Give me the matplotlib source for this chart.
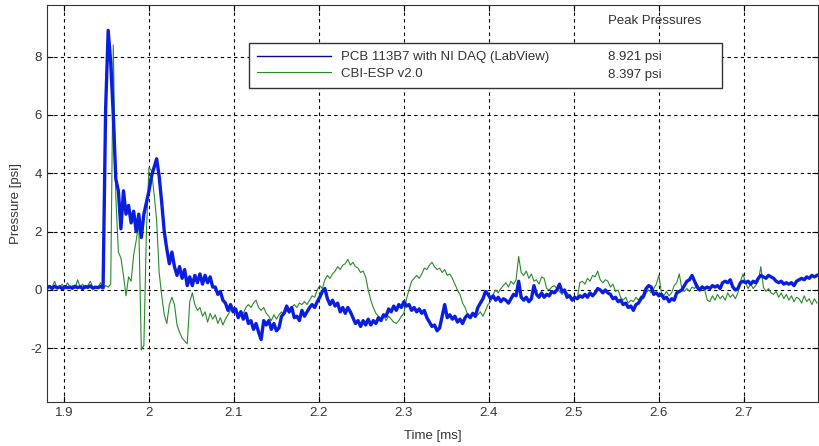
import numpy as np
import matplotlib.pyplot as plt

plt.rcParams['font.family'] = ['Liberation Sans', 'DejaVu Sans']

# sample times [ms], 0.003 ms spacing
t_start = 1.880
t_step = 0.003

# PCB 113B7 with NI DAQ (LabView), pressure [psi]
pcb_psi = [
    0.08, 0.12, 0.05, 0.13, 0.07, 0.11, 0.04, 0.12, 0.08, 0.10,
    0.06, 0.13, 0.08, 0.11, 0.05, 0.12, 0.09, 0.14, 0.06, 0.10,
    0.08, 0.12, 0.07, 6.20, 8.90, 7.80, 6.00, 3.80, 3.40, 2.10,
    3.40, 2.60, 2.90, 2.30, 2.70, 2.00, 2.60, 1.80, 2.60, 3.00,
    3.40, 3.90, 4.20, 4.50, 3.90, 3.00, 2.00, 1.40, 0.90, 1.30,
    0.80, 0.50, 0.80, 0.40, 0.70, 0.15, 0.45, 0.15, 0.50, 0.25,
    0.55, 0.20, 0.50, 0.25, 0.45, 0.10, 0.10, -0.15, -0.05, -0.35,
    -0.45, -0.70, -0.50, -0.75, -0.65, -0.95, -0.75, -1.00, -0.80, -1.15,
    -1.05, -1.35, -1.15, -1.45, -1.70, -1.05, -1.20, -1.05, -1.35, -1.15,
    -1.40, -1.30, -0.90, -0.80, -0.55, -0.75, -0.60, -0.95, -0.90, -1.05,
    -0.70, -0.90, -0.75, -0.60, -0.50, -0.60, -0.40, -0.25, -0.05, 0.05,
    -0.30, -0.50, -0.35, -0.55, -0.45, -0.75, -0.60, -0.80, -0.60, -0.75,
    -0.95, -1.15, -1.05, -1.25, -1.05, -1.20, -1.00, -1.20, -1.05, -1.15,
    -0.95, -1.05, -0.85, -0.90, -0.65, -0.75, -0.55, -0.70, -0.50, -0.60,
    -0.40, -0.55, -0.50, -0.70, -0.60, -0.75, -0.65, -0.80, -0.70, -0.95,
    -1.10, -1.25, -1.20, -1.40, -1.30, -0.90, -0.50, -0.95, -0.85, -1.00,
    -0.90, -1.10, -1.00, -1.15, -0.95, -0.85, -0.95, -0.80, -0.90, -0.60,
    -0.45, -0.30, -0.05, -0.15, -0.30, -0.20, -0.35, -0.25, -0.40, -0.30,
    -0.35, -0.45, -0.30, -0.15, -0.20, 0.30, -0.25, -0.35, -0.25, -0.40,
    -0.30, 0.15, -0.15, -0.25, -0.10, -0.25, -0.15, -0.20, -0.05, -0.10,
    0.00, 0.20, -0.05, 0.00, -0.25, -0.20, -0.35, -0.25, -0.30, -0.20,
    -0.25, -0.15, -0.25, -0.10, -0.20, -0.10, 0.05, 0.00, -0.10, 0.00,
    -0.10, -0.15, -0.30, -0.25, -0.40, -0.35, -0.50, -0.45, -0.60, -0.55,
    -0.70, -0.50, -0.45, -0.30, -0.20, 0.05, 0.15, 0.10, -0.15, -0.10,
    -0.20, -0.15, -0.30, -0.25, -0.40, -0.30, -0.35, -0.10, -0.05, 0.00,
    0.15, 0.30, 0.35, 0.50, 0.30, 0.10, 0.00, 0.10, 0.05, 0.10,
    0.05, 0.15, 0.10, 0.15, 0.05, 0.25, 0.30, 0.25, 0.35, 0.10,
    0.00, 0.05, 0.25, 0.30, 0.25, 0.30, 0.20, 0.30, 0.25, 0.40,
    0.50, 0.45, 0.40, 0.50, 0.45, 0.40, 0.30, 0.25, 0.30, 0.20,
    0.25, 0.20, 0.25, 0.15, 0.30, 0.35, 0.40, 0.35, 0.45, 0.40,
    0.50, 0.45, 0.50,
]

# CBI-ESP v2.0, pressure [psi]
cbi_psi = [
    0.05, 0.15, 0.10, 0.30, 0.05, 0.12, 0.20, 0.02, 0.25, 0.10,
    0.15, 0.05, 0.35, 0.10, 0.20, 0.05, 0.15, 0.30, 0.08, 0.12,
    0.10, 0.25, 0.05, 0.15, 0.10, 0.20, 8.40, 3.20, 1.30, 1.10,
    0.50, -0.20, 0.45, 0.30, 1.20, 1.70, 2.30, -2.05, -1.90, 2.00,
    4.20, 4.10, 3.30, 2.40, 0.60, -0.20, -0.85, -1.15, -0.50, -0.25,
    -0.50, -1.20, -1.45, -1.65, -1.75, -1.85, -0.40, -0.10, -0.50, -0.70,
    -0.60, -0.90, -0.75, -1.10, -0.80, -1.00, -0.85, -1.15, -0.95, -1.20,
    -1.00, -0.85, -0.70, -0.60, -0.75, -0.85, -0.70, -0.80, -0.60, -0.50,
    -0.60, -0.45, -0.35, -0.60, -0.70, -0.60, -0.80, -0.90, -1.05, -0.85,
    -1.00, -0.85, -0.75, -0.85, -0.70, -0.80, -0.60, -0.50, -0.60, -0.45,
    -0.50, -0.40, -0.50, -0.35, -0.20, -0.25, 0.00, 0.15, 0.05, 0.35,
    0.50, 0.40, 0.55, 0.65, 0.80, 0.70, 0.85, 0.90, 1.05, 0.85,
    0.95, 0.80, 0.75, 0.60, 0.65, 0.45, 0.00, -0.35, -0.60, -0.80,
    -0.90, -1.00, -0.85, -1.05, -0.90, -1.00, -1.10, -1.15, -1.05, -0.90,
    -0.80, -0.30, 0.00, 0.30, 0.40, 0.50, 0.40, 0.55, 0.75, 0.70,
    0.85, 0.95, 0.80, 0.70, 0.75, 0.60, 0.70, 0.50, 0.55, 0.40,
    0.20, 0.00, -0.15, -0.45, -0.60, -0.85, -0.90, -0.80, -0.95, -0.85,
    -0.75, -0.90, -0.70, -0.50, -0.40, -0.15, 0.00, -0.10, 0.05, 0.15,
    0.25, 0.10, 0.30, 0.20, 0.35, 1.15, 0.60, 0.50, 0.65, 0.40,
    0.55, 0.30, 0.35, 0.20, 0.45, 0.40, 0.05, 0.00, 0.10, 0.15,
    0.05, -0.05, -0.15, -0.05, -0.10, -0.20, -0.30, -0.25, -0.30, 0.25,
    0.30, 0.20, 0.40, 0.30, 0.50, 0.45, 0.65, 0.35, 0.25, 0.35,
    0.30, 0.10, 0.20, -0.05, 0.00, -0.25, -0.35, -0.25, -0.45, -0.35,
    -0.40, -0.25, -0.35, -0.20, -0.30, -0.10, 0.00, -0.10, 0.05, 0.20,
    0.50, -0.10, -0.20, -0.05, -0.20, -0.10, 0.15, 0.25, 0.55, 0.05,
    -0.05, 0.05, -0.05, 0.10, 0.05, 0.20, 0.05, 0.15, 0.00, -0.35,
    -0.40, -0.20, -0.35, -0.15, -0.30, -0.20, -0.35, -0.10, -0.25, -0.15,
    -0.30, -0.10, 0.30, 0.55, 0.25, 0.05, 0.20, 0.05, 0.15, 0.30,
    0.80, 0.10, -0.05, 0.05, -0.10, -0.15, -0.05, -0.25, -0.10, -0.30,
    -0.15, -0.35, -0.20, -0.40, -0.25, -0.30, -0.45, -0.20, -0.40, -0.30,
    -0.50, -0.30, -0.45,
]

series_labels = ['PCB 113B7 with NI DAQ (LabView)', 'CBI-ESP v2.0']
peak_labels = ['8.921 psi', '8.397 psi']
x_ticks = [1.9, 2.0, 2.1, 2.2, 2.3, 2.4, 2.5, 2.6, 2.7]
x_tick_labels = ['1.9', '2', '2.1', '2.2', '2.3', '2.4', '2.5', '2.6', '2.7']
y_ticks = [-2, 0, 2, 4, 6, 8]
y_tick_labels = ['-2', '0', '2', '4', '6', '8']

t_ms = t_start + t_step * np.arange(len(pcb_psi))

fig = plt.figure(figsize=(8.2, 4.46), dpi=100)
ax = fig.add_axes([0.0573, 0.0987, 0.940, 0.890])

ax.plot(t_ms, pcb_psi, color='#0a1ee0', lw=2.4, label=series_labels[0], zorder=3)
ax.plot(t_ms, cbi_psi, color='#2a8a2a', lw=0.8, label=series_labels[1], zorder=2)

ax.set_xlim(1.88, 2.787)
ax.set_ylim(-3.84, 9.77)
ax.set_xticks(x_ticks)
ax.set_xticklabels(x_tick_labels)
ax.set_yticks(y_ticks)
ax.set_yticklabels(y_tick_labels)
ax.tick_params(direction='in', top=True, right=True, labelsize=9.5,
               labelcolor='#333333', length=4)
ax.grid(True, color='black', linestyle=(0, (3, 3)), linewidth=0.8)
for s in ax.spines.values():
    s.set_color('#333333')

ax.set_xlabel('Time [ms]', fontsize=9.5, color='#333333', labelpad=8)
ax.set_ylabel('Pressure [psi]', fontsize=9.5, color='#333333', labelpad=6)

leg = ax.legend(loc='center left', bbox_to_anchor=(0.262, 0.7884, 0.6135, 0.1184),
                mode='expand', borderaxespad=0, fontsize=9.5, handlelength=5.6,
                handletextpad=0.8, labelspacing=0.35, borderpad=0.6,
                fancybox=False, framealpha=1, edgecolor='#333333')
leg.get_frame().set_linewidth(1.0)
leg.get_lines()[0].set_linewidth(1.0)
leg.get_lines()[0].set_color('#0a0a90')
for txt in leg.get_texts():
    txt.set_color('#333333')

ax.text(0.7276, 0.9597, 'Peak Pressures', transform=ax.transAxes, fontsize=9.5,
        color='#333333', va='center', ha='left', zorder=7)
ax.text(0.7276, 0.869, peak_labels[0], transform=ax.transAxes, fontsize=9.5,
        color='#333333', va='center', ha='left', zorder=7)
ax.text(0.7276, 0.8237, peak_labels[1], transform=ax.transAxes, fontsize=9.5,
        color='#333333', va='center', ha='left', zorder=7)

fig.savefig('out.png', dpi=100)
